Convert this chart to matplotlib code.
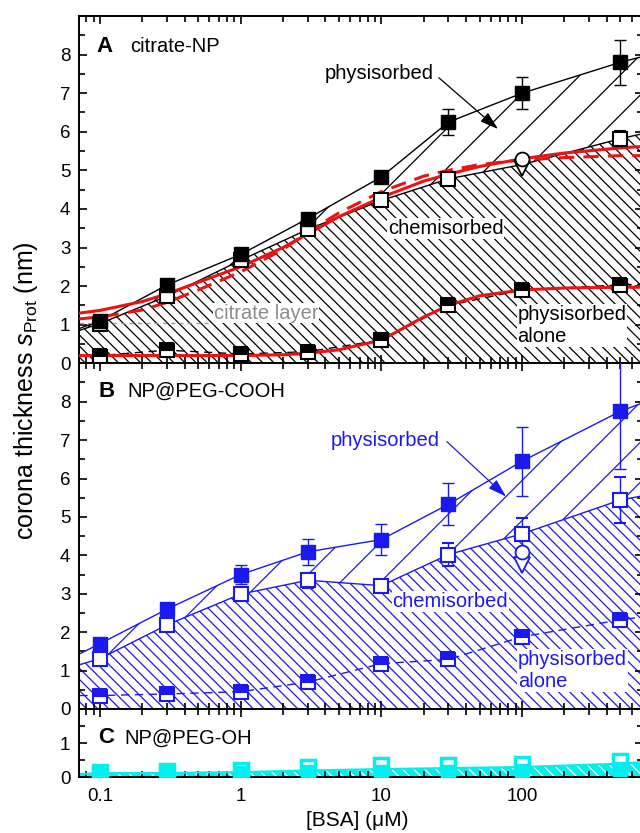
import matplotlib.pyplot as plt
from matplotlib.ticker import MultipleLocator, FuncFormatter, NullFormatter, LogLocator

plt.rcParams['font.family'] = ['Liberation Sans', 'DejaVu Sans']
plt.rcParams['mathtext.fontset'] = 'custom'
plt.rcParams['mathtext.rm'] = 'Liberation Sans'
plt.rcParams['mathtext.it'] = 'Liberation Sans:italic'
plt.rcParams['hatch.linewidth'] = 0.9

# %% data (x = BSA concentration in uM, y = thickness in nm)
X_LO, X_HI = 0.0713, 720
conc = [0.1, 0.3, 1, 3, 10, 30, 100, 500]

# panel A - citrate NP (black)
a_total = [1.1, 2.03, 2.82, 3.75, 4.83, 6.25, 7.0, 7.8]
a_total_err = [0, 0, 0, 0, 0, 0.33, 0.42, 0.58]
a_total_edge = [0.9, 7.95]
a_chem = [1.03, 1.74, 2.67, 3.47, 4.22, 4.78, 5.15, 5.82]
a_chem_err = [0, 0, 0, 0, 0, 0, 0, 0.2]
a_chem_edge = [0.85, 5.95]
a_chem_shown = [True, True, True, True, True, True, False, True]
a_alone = [0.2, 0.34, 0.24, 0.3, 0.6, 1.5, 1.9, 2.03]
a_alone_edge = [0.2, 2.05]
a_circle = 5.3
a_triangle = 5.05
citrate_level = 1.05

# fitted curves in A, sampled along the drawn lines
fit_x = [0.0713, 0.1, 0.2, 0.3, 0.5, 1, 2, 3, 5, 10, 20, 30, 50, 100, 200, 500, 720]
fit_solid = [1.3, 1.37, 1.6, 1.8, 2.1, 2.5, 3.0, 3.35, 3.8, 4.3, 4.72, 4.9, 5.1, 5.3, 5.45, 5.58, 5.62]
fit_dashed = [1.15, 1.2, 1.38, 1.58, 1.9, 2.37, 2.95, 3.4, 3.9, 4.45, 4.85, 5.0, 5.15, 5.27, 5.33, 5.38, 5.38]
fit_low = [0.2, 0.2, 0.2, 0.2, 0.2, 0.2, 0.22, 0.26, 0.35, 0.6, 1.2, 1.5, 1.75, 1.9, 1.95, 1.97, 1.97]

# panel B - NP@PEG-COOH (blue)
b_total = [1.70, 2.60, 3.50, 4.09, 4.41, 5.33, 6.45, 7.75]
b_total_err = [0.12, 0.12, 0.25, 0.33, 0.4, 0.55, 0.9, 1.5]
b_total_edge = [1.43, 7.97]
b_chem = [1.31, 2.19, 2.99, 3.35, 3.21, 4.02, 4.56, 5.44]
b_chem_err = [0, 0, 0.1, 0.2, 0, 0.3, 0.4, 0.6]
b_chem_edge = [1.15, 5.55]
b_alone = [0.35, 0.39, 0.45, 0.7, 1.18, 1.29, 1.88, 2.32]
b_alone_edge = [0.35, 2.4]
b_circle = 4.09
b_triangle = 3.75

# panel C - NP@PEG-OH (cyan)
c_open = [0.15, 0.17, 0.22, 0.3, 0.35, 0.35, 0.38, 0.48]
c_filled = [0.1, 0.12, 0.12, 0.15, 0.15, 0.15, 0.18, 0.25]
c_band = [0.12, 0.13, 0.15, 0.2, 0.24, 0.27, 0.3, 0.4]
c_band_edge = [0.1, 0.45]

BLACK, BLUE, CYAN, RED = 'black', '#1a1aee', '#00f0f0', '#ee1111'
FIG_W, FIG_H = 640, 833
DENSE = '\\' * 3


def with_edges(vals, edge):
    return [X_LO] + conc + [X_HI], [edge[0]] + vals + [edge[1]]


def style_axis(ax, ymax, yticks, labels=False):
    ax.set_xscale('log')
    ax.set_xlim(X_LO, X_HI)
    ax.set_ylim(0, ymax)
    ax.set_yticks(yticks)
    ax.yaxis.set_minor_locator(MultipleLocator(0.5))
    ax.xaxis.set_major_locator(LogLocator(base=10))
    ax.xaxis.set_minor_locator(LogLocator(base=10, subs=range(2, 10)))
    ax.xaxis.set_major_formatter(FuncFormatter(lambda v, p: f'{v:g}'))
    ax.xaxis.set_minor_formatter(NullFormatter())
    ax.tick_params(which='both', direction='in', top=True, right=True, width=1.2,
                   labelsize=13.5, labelbottom=labels)
    ax.tick_params(axis='y', pad=6.5)
    ax.tick_params(axis='x', pad=8)
    ax.tick_params(which='major', length=6)
    ax.tick_params(which='minor', length=4)
    for s in ax.spines.values():
        s.set_linewidth(1.4)


def sparse_hatch(ax, x, lo, hi, color, step_px=40):
    coll = ax.fill_between(x, lo, hi, facecolor='none', edgecolor='none', lw=0)
    bb = ax.get_position()
    w = bb.width * FIG_W
    h = bb.height * FIG_H
    run = h / w
    s = -run
    while s < 1:
        ln, = ax.plot([s, s + run], [0, 1], transform=ax.transAxes, color=color, lw=0.9)
        ln.set_clip_path(coll.get_paths()[0], ax.transData)
        s += step_px / w


def draw_panel(ax, color, total, total_err, total_edge, chem, chem_err, chem_edge,
               alone, alone_edge, shown=None):
    xl, tl = with_edges(total, total_edge)
    _, cl = with_edges(chem, chem_edge)
    xa, al = with_edges(alone, alone_edge)
    ax.fill_between(xl, 0, cl, facecolor='none', edgecolor=color, hatch=DENSE, lw=0)
    sparse_hatch(ax, xl, cl, tl, color)
    ax.plot(xl, tl, color=color, lw=1.0)
    ax.plot(xl, cl, color=color, lw=1.0)
    ax.plot(xa, al, color=color, lw=1.0, dashes=(6, 4))
    if shown is None:
        shown = [True] * len(conc)
    cx = [c for c, s in zip(conc, shown) if s]
    cy = [v for v, s in zip(chem, shown) if s]
    ce = [e for e, s in zip(chem_err, shown) if s]
    ax.errorbar(cx, cy, yerr=ce, fmt='s', ms=10, mfc='white', mec=color, mew=1.5,
                ecolor=color, elinewidth=1.0, capsize=4.5, capthick=1.0, zorder=6)
    ax.errorbar(conc, total, yerr=total_err, fmt='s', ms=10, mfc=color, mec=color,
                ecolor=color, elinewidth=1.0, capsize=4.5, capthick=1.0, zorder=6)
    ax.plot(conc, alone, 's', ms=10, mfc=color, mec=color, mew=1.5, fillstyle='top',
            markerfacecoloralt='white', zorder=6)


label_box = dict(facecolor='white', edgecolor='none', pad=0.6)

fig = plt.figure(figsize=(FIG_W / 100, FIG_H / 100), dpi=100)
axA = fig.add_axes([0.1239, 0.5639, 0.8803, 0.4169])
axB = fig.add_axes([0.1239, 0.1489, 0.8803, 0.4150])
axC = fig.add_axes([0.1239, 0.0669, 0.8803, 0.0820])

# %% panel A
style_axis(axA, 9, range(0, 9))
draw_panel(axA, BLACK, a_total, a_total_err, a_total_edge, a_chem, a_chem_err, a_chem_edge,
           a_alone, a_alone_edge, a_chem_shown)
axA.plot([X_LO, 0.64], [citrate_level, citrate_level], color='0.6', lw=1.0, dashes=(3, 3))
axA.plot(fit_x, fit_solid, color=RED, lw=2.2, zorder=5)
axA.plot(fit_x, fit_dashed, color=RED, lw=2.2, dashes=(5, 3), zorder=5)
axA.plot(fit_x, fit_low, color=RED, lw=2.2, zorder=5)
axA.plot([100], [a_triangle], 'v', ms=11, mfc='white', mec=BLACK, mew=1.3, zorder=7)
axA.plot([100], [a_circle], 'o', ms=10, mfc='white', mec=BLACK, mew=1.3, zorder=7)
axA.text(0.095, 8.2, 'A', fontsize=16, fontweight='bold', va='center')
axA.text(0.163, 8.2, 'citrate-NP', fontsize=14.5, va='center')
axA.text(3.97, 7.5, 'physisorbed', fontsize=14.5, va='center')
axA.annotate('', xy=(67.5, 6.07), xytext=(25.6, 7.4),
             arrowprops=dict(arrowstyle='-|>,head_length=0.8,head_width=0.25', color=BLACK,
                             lw=0.9, mutation_scale=14, shrinkA=0, shrinkB=0))
axA.text(11.1, 3.49, 'chemisorbed', fontsize=14.5, va='center', bbox=label_box, zorder=8)
axA.text(0.645, 1.3, 'citrate layer', fontsize=14.5, va='center', color='0.55',
         bbox=label_box, zorder=4)
axA.text(92.7, 0.98, 'physisorbed\nalone', fontsize=14.5, va='center', linespacing=1.25,
         bbox=label_box, zorder=4)

# %% panel B
style_axis(axB, 9, range(0, 9))
draw_panel(axB, BLUE, b_total, b_total_err, b_total_edge, b_chem, b_chem_err, b_chem_edge,
           b_alone, b_alone_edge)
axB.plot([100], [b_triangle], 'v', ms=11, mfc='white', mec=BLUE, mew=1.3, zorder=7)
axB.plot([100], [b_circle], 'o', ms=10, mfc='white', mec=BLUE, mew=1.3, zorder=7)
axB.text(0.097, 8.26, 'B', fontsize=16, fontweight='bold', va='center')
axB.text(0.156, 8.26, 'NP@PEG-COOH', fontsize=14.5, va='center')
axB.text(4.38, 7.0, 'physisorbed', fontsize=14.5, va='center', color=BLUE)
axB.annotate('', xy=(76.9, 5.53), xytext=(29.2, 6.96),
             arrowprops=dict(arrowstyle='-|>,head_length=0.8,head_width=0.25', color=BLUE,
                             lw=0.9, mutation_scale=14, shrinkA=0, shrinkB=0))
axB.text(12.0, 2.8, 'chemisorbed', fontsize=14.5, va='center', color=BLUE, bbox=label_box,
         zorder=8)
axB.text(93.6, 1.0, 'physisorbed\nalone', fontsize=14.5, va='center', color=BLUE,
         linespacing=1.25, bbox=label_box, zorder=4)

# %% panel C
style_axis(axC, 2, [0, 1], labels=True)
xc, bc = with_edges(c_band, c_band_edge)
axC.fill_between(xc, 0, bc, facecolor=CYAN, edgecolor='white', hatch='\\\\\\', lw=0)
axC.plot(xc, bc, color=CYAN, lw=1.5)
axC.plot(conc, c_open, 's', ms=10, mfc='white', mec=CYAN, mew=2.5, zorder=6)
axC.plot(conc, c_filled, 's', ms=10, mfc=CYAN, mec=CYAN, zorder=6)
axC.text(0.097, 1.15, 'C', fontsize=16, fontweight='bold', va='center')
axC.text(0.148, 1.15, 'NP@PEG-OH', fontsize=14.5, va='center')

fig.text(0.040, 1 - 391 / FIG_H, r'corona thickness $s_{\mathrm{Prot}}$ (nm)', rotation=90,
         ha='center', va='center', fontsize=18)
fig.text(357 / FIG_W, 1 - 821 / FIG_H, '[BSA] (\u03bcM)', ha='center', va='center', fontsize=15)

fig.savefig('out.png', dpi=100)
